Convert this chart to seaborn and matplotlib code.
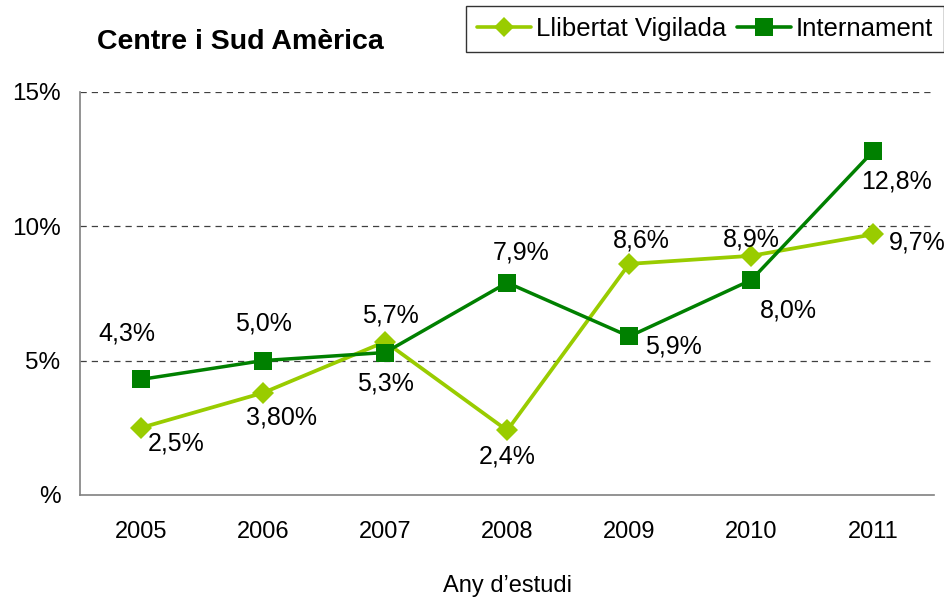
#!/usr/bin/env python3
"""Centre i Sud America - Llibertat Vigilada vs Internament."""

import pandas as pd
import matplotlib
matplotlib.use("Agg")
import matplotlib.pyplot as plt
import seaborn as sns

# data
years = ["2005", "2006", "2007", "2008", "2009", "2010", "2011"]
llibertat = [2.5, 3.8, 5.7, 2.4, 8.6, 8.9, 9.7]
internament = [4.3, 5.0, 5.3, 7.9, 5.9, 8.0, 12.8]
llibertat_labels = ["2,5%", "3,80%", "5,7%", "2,4%", "8,6%", "8,9%", "9,7%"]
internament_labels = ["4,3%", "5,0%", "5,3%", "7,9%", "5,9%", "8,0%", "12,8%"]
series_names = ["Llibertat Vigilada", "Internament"]

# label offsets in points (style only)
llib_offsets = [(25, -11), (13, -18), (4, 19), (0, -19), (9, 17), (0, 12), (32, -6)]
int_offsets = [(-10, 33), (0, 27), (0, -22), (10, 22), (32, -7), (27, -22), (17, -22)]

colors = {"Llibertat Vigilada": "#99CC00", "Internament": "#008000"}
markers = {"Llibertat Vigilada": "D", "Internament": "s"}
msizes = {"Llibertat Vigilada": 11, "Internament": 13.5}

sns.set_theme(style="white", rc={"text.color": "black", "xtick.color": "black",
                                 "ytick.color": "black", "axes.labelcolor": "black"})
plt.rcParams["font.family"] = ["Liberation Sans", "DejaVu Sans"]

df_llib = pd.DataFrame({"pos": range(len(years)), "value": llibertat})
df_int = pd.DataFrame({"pos": range(len(years)), "value": internament})

fig = plt.figure(figsize=(9.45, 5.97), dpi=100)
ax = fig.add_axes([0.0847, 0.171, 0.904, 0.675])

sns.lineplot(data=df_llib, x="pos", y="value", color=colors[series_names[0]],
             marker=markers[series_names[0]], linewidth=2.7,
             markersize=msizes[series_names[0]], markeredgewidth=0, ax=ax, zorder=3)
sns.lineplot(data=df_int, x="pos", y="value", color=colors[series_names[1]],
             marker=markers[series_names[1]], linewidth=2.5,
             markersize=msizes[series_names[1]], markeredgewidth=0, ax=ax, zorder=4)

# data labels
for i, (v, lab) in enumerate(zip(llibertat, llibertat_labels)):
    ax.annotate(lab, (i, v), xytext=llib_offsets[i], textcoords="offset points",
                ha="center", va="center", fontsize=18, color="black")
for i, (v, lab) in enumerate(zip(internament, internament_labels)):
    ax.annotate(lab, (i, v), xytext=int_offsets[i], textcoords="offset points",
                ha="center", va="center", fontsize=18, color="black")

# axes
ax.set_xlim(-0.5, len(years) - 0.5)
ax.set_ylim(0, 15)
ax.set_yticks([0, 5, 10, 15])
ax.set_yticklabels(["%", "5%", "10%", "15%"], fontsize=17.5)
ax.set_xticks(range(len(years)))
ax.set_xticklabels(years, fontsize=17)
ax.set_xticks([i - 0.5 for i in range(len(years) + 1)], minor=True)
ax.tick_params(axis="x", which="major", length=0, pad=19)
ax.tick_params(axis="x", which="minor", length=6, width=1, color="#808080", direction="out")
ax.tick_params(axis="y", length=6, width=1, color="#808080", direction="out", pad=8)
ax.set_xlabel("Any d\u2019estudi", fontsize=17, labelpad=23)
ax.set_ylabel("")

for y in [5, 10, 15]:
    ax.axhline(y, color="#404040", linestyle=(0, (5, 4)), linewidth=0.9, zorder=0)

for s in ["top", "right"]:
    ax.spines[s].set_visible(False)
for s in ["left", "bottom"]:
    ax.spines[s].set_color("#808080")
    ax.spines[s].set_linewidth(1.2)

# title
fig.text(0.1026, 0.929, "Centre i Sud Am\u00e8rica", fontsize=20.5, fontweight="bold",
         ha="left", va="center")

# legend
handles = [plt.Line2D([], [], color=colors[n], marker=markers[n], linewidth=2.6,
                      markersize=msizes[n] * 0.95, markeredgewidth=0) for n in series_names]
leg = fig.legend(handles, series_names, loc="upper right", bbox_to_anchor=(0.999, 0.99),
                 ncol=2, fontsize=18.5, frameon=True, fancybox=False,
                 handlelength=2.1, handletextpad=0.2, columnspacing=0.4,
                 borderpad=0.42, borderaxespad=0)
leg.get_frame().set_edgecolor("black")
leg.get_frame().set_linewidth(1.0)

fig.savefig("out.png", dpi=100)
